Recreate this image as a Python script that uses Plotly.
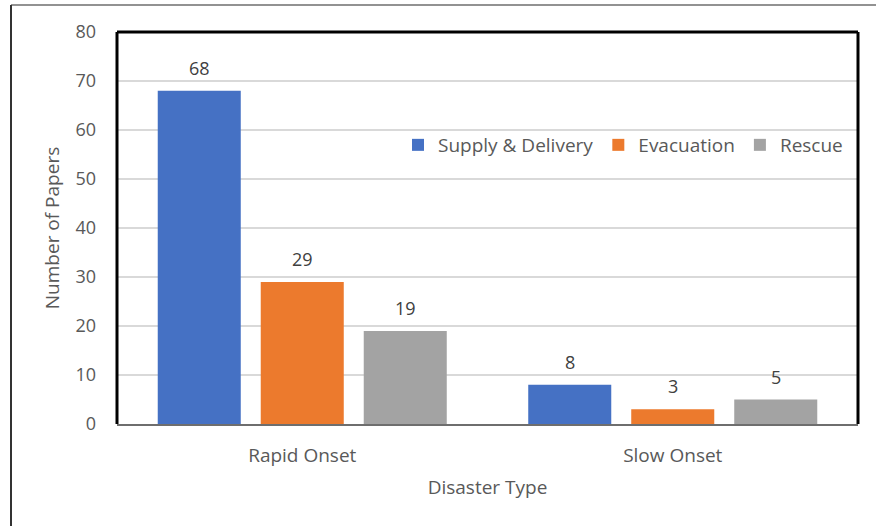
import plotly.graph_objects as go

categories = ["Rapid Onset", "Slow Onset"]
series_names = ["Supply & Delivery", "Evacuation", "Rescue"]
supply_delivery = [68, 8]
evacuation = [29, 3]
rescue = [19, 5]
y_ticks = [0, 10, 20, 30, 40, 50, 60, 70, 80]

series_values = [supply_delivery, evacuation, rescue]
colors = ["#4571c4", "#ec7a2d", "#a3a3a3"]

W, H = 876, 526
ML, MR, MT, MB = 117, 18, 32, 102
PW = W - ML - MR
PH = H - MT - MB

FONT = "Open Sans"
TXT = "#595959"

fig = go.Figure()
for name, vals, col in zip(series_names, series_values, colors):
    fig.add_trace(go.Bar(
        x=categories, y=vals, name=name,
        marker=dict(color=col, line=dict(width=0)),
    ))

bargap = 0.166
bargroupgap = 0.194
cat_px = PW / len(categories)
slot_px = cat_px * (1 - bargap) / len(series_names)

annotations = []
for i, vals in enumerate(series_values):
    for c, v in zip(categories, vals):
        annotations.append(dict(
            x=c, y=v, xref="x", yref="y", text=str(v), showarrow=False,
            xshift=(i - 1) * slot_px, yshift=9, yanchor="bottom",
            font=dict(family=FONT, size=18, color="#404040"),
        ))

fx = (11 - ML) / PW
fy = (H - MB - 5) / PH
shapes = [
    dict(type="line", xref="paper", yref="paper", x0=0, x1=0, y0=0, y1=1,
         line=dict(color="black", width=3)),
    dict(type="line", xref="paper", yref="paper", x0=0, x1=1, y0=1, y1=1,
         line=dict(color="black", width=3)),
    dict(type="line", xref="paper", yref="paper", x0=1, x1=1, y0=0, y1=1,
         line=dict(color="black", width=3)),
    dict(type="line", xref="paper", yref="paper",
         x0=fx, x1=(W + 5 - ML) / PW, y0=fy, y1=fy,
         line=dict(color="#6e6e6e", width=1.5)),
    dict(type="line", xref="paper", yref="paper",
         x0=fx, x1=fx, y0=fy, y1=-(MB + 5) / PH,
         line=dict(color="#333333", width=2)),
]

fig.update_layout(
    width=W, height=H,
    margin=dict(l=ML, r=MR, t=MT, b=MB, pad=0),
    paper_bgcolor="white", plot_bgcolor="white",
    barmode="group", bargap=bargap, bargroupgap=bargroupgap,
    font=dict(family=FONT, size=18, color=TXT),
    showlegend=True,
    legend=dict(
        orientation="h", x=(848 - ML) / PW, xanchor="right",
        y=(H - MB - 145) / PH, yanchor="middle",
        font=dict(family=FONT, size=19, color=TXT),
        bgcolor="rgba(0,0,0,0)", traceorder="normal",
    ),
    xaxis=dict(
        showgrid=False, showline=True, linecolor="#6e6e6e", linewidth=2,
        ticks="", tickfont=dict(family=FONT, size=19, color=TXT),
        title=dict(text="Disaster Type", font=dict(family=FONT, size=19, color=TXT), standoff=14),
        ticklabelstandoff=13,
    ),
    yaxis=dict(
        range=[0, 80], tickvals=y_ticks, showgrid=True, gridcolor="#d9d9d9", gridwidth=2,
        zeroline=False, showline=False, ticks="",
        tickfont=dict(family=FONT, size=18, color=TXT),
        title=dict(text="Number of Papers", font=dict(family=FONT, size=19, color=TXT), standoff=10),
        ticklabelstandoff=20,
    ),
    annotations=annotations,
    shapes=shapes,
)

fig.write_html("out.html", config={"displayModeBar": False},
               post_script="document.body.style.margin='0px';")
